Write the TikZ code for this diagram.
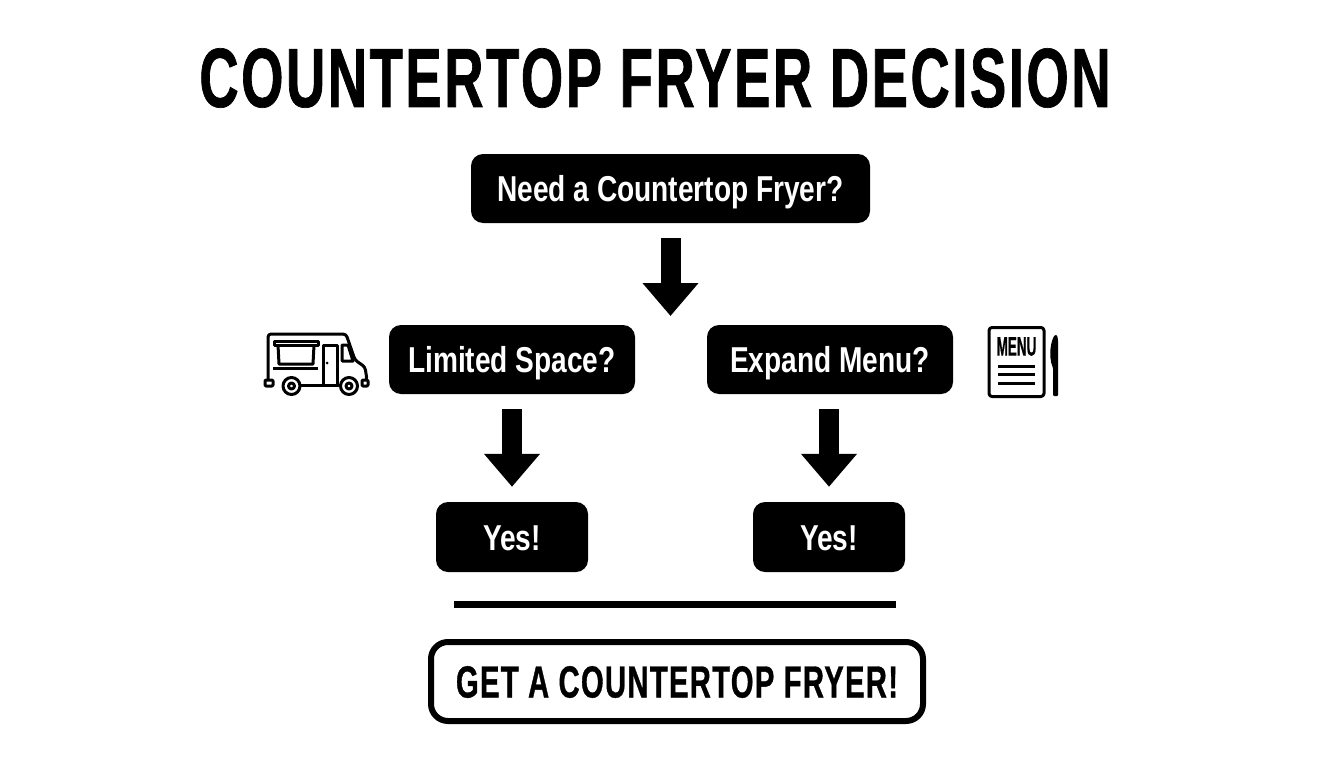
\documentclass[tikz,border=0pt]{standalone}
\usepackage{fontspec}
\setmainfont[FakeStretch=0.78]{Liberation Sans}
\newfontfamily\heavyfont[FakeStretch=0.648,LetterSpace=3,BoldFeatures={FakeBold=0.8}]{Liberation Sans}
\newfontfamily\tinyfont[FakeStretch=0.5,BoldFeatures={FakeBold=0.4}]{Liberation Sans}
\usepackage{tikz}
\usetikzlibrary{arrows.meta}

\begin{document}
\begin{tikzpicture}[x=1pt,y=-1pt]

% Define box, arrow and icon style
\tikzstyle{darkbox} = [fill=black, text=white, rectangle, rounded corners=12pt,
    inner sep=0pt, text height=30pt, text depth=4pt,
    font=\bfseries\fontsize{36}{40}\selectfont]
\tikzstyle{endbox} = [draw=black, fill=white, line width=6pt, rectangle, rounded corners=17pt,
    inner sep=0pt, minimum width=492pt, minimum height=79pt, text height=35pt, text depth=3pt,
    font=\heavyfont\bfseries\fontsize{45}{50}\selectfont]
\tikzstyle{blockarrow} = [draw=black, line width=20pt,
    -{Triangle[width=54pt,length=33pt]}, shorten <=15pt]
\tikzstyle{iconline} = [draw=black, line width=3pt, line join=round]

\useasboundingbox (0,0) rectangle (1344,768);

\node [font=\heavyfont\bfseries\fontsize{84}{90}\selectfont] (title) at (655,78) {COUNTERTOP FRYER DECISION};

\node [darkbox, minimum width=399pt, minimum height=69pt] (need) at (670.5,188.5) {Need a Countertop Fryer?};
\node [darkbox, minimum width=246pt, minimum height=69pt] (space) at (512,359.5) {Limited Space?};
\node [darkbox, minimum width=246pt, minimum height=69pt] (menu) at (830,359.5) {Expand Menu?};
\node [darkbox, minimum width=152pt, minimum height=70pt] (yesa) at (512,537) {Yes!};
\node [darkbox, minimum width=152pt, minimum height=70pt] (yesb) at (829,537) {Yes!};
\node [endbox] (get) at (677,681.5) {GET A COUNTERTOP FRYER!};

\coordinate (split) at (670.5,316);
\coordinate (barl) at (454,604);
\coordinate (barr) at (896,604);

\draw [blockarrow] (need.south) -- (split);
\draw [blockarrow, shorten >=15pt] (space.south) -- (yesa.north);
\draw [blockarrow, shorten >=15pt] (yesb.north |- menu.south) -- (yesb.north);
\draw [black, line width=7pt] (barl) -- (barr);

% food truck
\draw [iconline, rounded corners=3pt] (273,385) -- (268,385) -- (268,334) -- (346,334) -- (355,360)
    -- (365,367) -- (367,380) -- (362,385);
\draw [iconline] (301,385) -- (340,385);
\draw [iconline, fill=white, rounded corners=1pt] (265,380) rectangle (273,386);
\draw [iconline, fill=white, rounded corners=1pt] (362,380) rectangle (368,386);
\draw [iconline] (274,341.5) rectangle (318,345);
\draw [iconline] (278,345) -- (279,364) -- (313,364) -- (314,345);
\draw [black, line width=3.4pt] (273,368.5) -- (318,368.5);
\draw [iconline] (323,385) -- (323,345) -- (337,345) -- (337,385);
\fill [black] (327,363) circle (1.5pt);
\draw [iconline] (342,345) -- (348,345) -- (353,361) -- (342,361) -- cycle;
\draw [iconline, fill=white] (291.5,386) circle (8.5pt);
\draw [iconline] (291.5,386) circle (3pt);
\draw [iconline, fill=white] (349,386) circle (8.5pt);
\draw [iconline] (349,386) circle (3pt);

% menu and knife
\draw [iconline, rounded corners=3pt] (989,327.5) rectangle (1044,396.5);
\node [inner sep=0pt, font=\tinyfont\bfseries\fontsize{27}{28}\selectfont] (menulabel) at (1016.5,346.5) {MENU};
\foreach \y in {366,374.5,383}
    \draw [black, line width=3pt] (998,\y) -- (1035,\y);
\fill [black, rounded corners=1pt] (1055,335) .. controls (1051,340) and (1048,356) .. (1053,368)
    -- (1053,396) -- (1058,396) -- (1058,340) -- (1057,335) -- cycle;

\end{tikzpicture}
\end{document}
